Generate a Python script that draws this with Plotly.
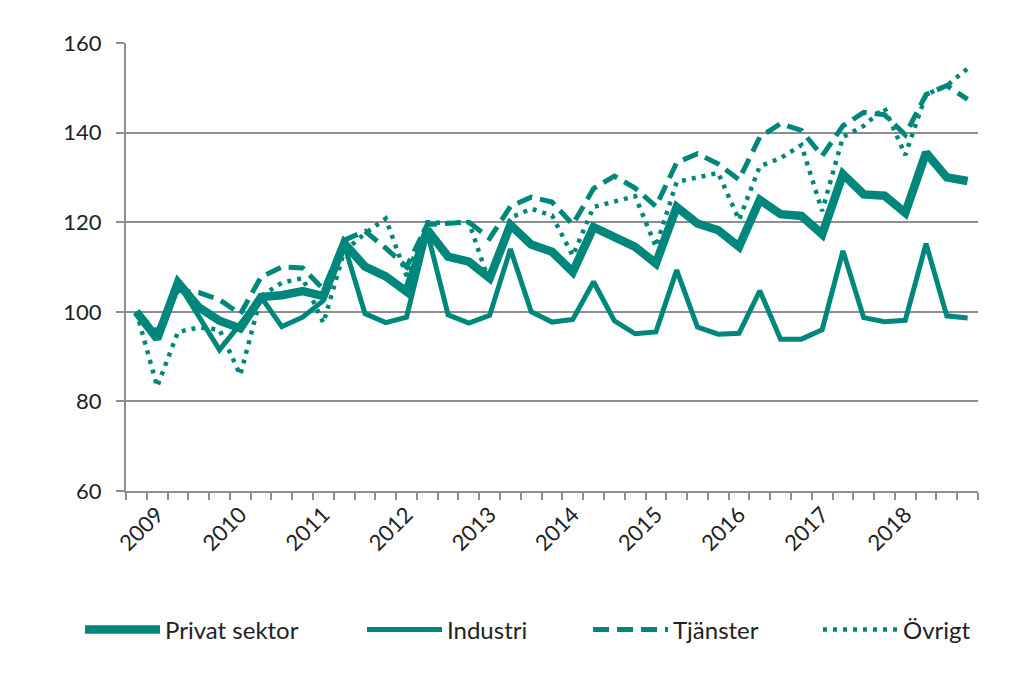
import plotly.graph_objects as go

# Categories: quarterly, 2008 K4 .. 2018 K4
quarters = ["2008 K4"] + [f"{y} K{q}" for y in range(2009, 2019) for q in range(1, 5)]
year_labels = [q[:4] if q.endswith("K1") else "" for q in quarters]

privat_sektor = [100, 94, 106.5, 101, 98, 96.3, 103.3, 103.7, 104.6, 103.5,
                 115.3, 110.1, 107.9, 104.5, 118.3, 112.3, 111.2, 107.5, 119.4, 115,
                 113.4, 108.9, 118.9, 116.7, 114.5, 110.8, 123.4, 119.7, 118.2, 114.5,
                 125, 121.8, 121.4, 117.3, 130.7, 126.2, 125.9, 122.1, 135.5, 130, 129.2]
industri = [100, 94, 106.5, 99, 91.5, 97.3, 103.3, 96.7, 98.8, 102.5,
            115, 99.6, 97.6, 98.8, 117.8, 99.3, 97.5, 99.2, 114, 100,
            97.7, 98.3, 106.7, 98, 95.1, 95.5, 109.3, 96.6, 95, 95.2,
            104.7, 93.9, 93.9, 96, 113.6, 98.7, 97.8, 98.1, 115.2, 99.1, 98.6]
tjanster = [100, 95.5, 104.8, 104.3, 102.7, 99.5, 107.8, 110, 109.8, 105,
            116, 118, 114.2, 110, 119.5, 119.8, 120, 116.4, 123.5, 125.6,
            124.5, 119.5, 127.5, 130.3, 127.6, 123.5, 133.3, 135.3, 133, 129.5,
            139, 142, 140.5, 134.8, 141.5, 144.5, 144, 139.5, 148.5, 150.5, 147.4]
ovrigt = [100, 83.3, 95.5, 96.5, 96, 85.9, 103.5, 106.5, 107.5, 97.5,
          113.5, 117.5, 120.8, 108, 120, 119.8, 120, 106.4, 121, 123,
          121.5, 112.5, 123.4, 124.6, 125.8, 114.5, 129, 130, 131, 120.5,
          132.5, 134.3, 137.2, 122.5, 139, 141.5, 145.5, 135, 148.5, 150.5, 154.3]

TEAL = "#00877B"
GRID = "#8E8E8E"
FONT = "Lato, Liberation Sans, sans-serif"
TXT = "#222222"

fig = go.Figure()
fig.add_trace(go.Scatter(x=quarters, y=privat_sektor, mode="lines", name="Privat sektor",
                         line=dict(color=TEAL, width=8.5), legend="legend"))
fig.add_trace(go.Scatter(x=quarters, y=industri, mode="lines", name="Industri",
                         line=dict(color=TEAL, width=5), legend="legend2"))
fig.add_trace(go.Scatter(x=quarters, y=tjanster, mode="lines", name="Tjänster",
                         line=dict(color=TEAL, width=5, dash="16px,8px"), legend="legend3"))
fig.add_trace(go.Scatter(x=quarters, y=ovrigt, mode="lines", name="Övrigt",
                         line=dict(color=TEAL, width=4.5, dash="4px,6px"), legend="legend4"))

L, R, T, B = 126, 43, 43, 193
W, H = 1021, 684
pw = W - L - R
ph = H - T - B

def lx(px):
    return (px - L) / pw

ly = (T + ph - 630) / ph

leg_common = dict(orientation="h", yanchor="middle", y=ly, xanchor="left",
                  font=dict(family=FONT, size=24, color=TXT),
                  itemwidth=75, bgcolor="rgba(0,0,0,0)")

fig.update_layout(
    width=W, height=H,
    margin=dict(l=L, r=R, t=T, b=B, autoexpand=False),
    paper_bgcolor="white", plot_bgcolor="white",
    showlegend=True,
    font=dict(family=FONT, size=22, color=TXT),
    legend=dict(x=lx(80), **leg_common),
    legend2=dict(x=lx(362), **leg_common),
    legend3=dict(x=lx(588), **leg_common),
    legend4=dict(x=lx(818), **leg_common),
    xaxis=dict(
        type="category", tickmode="array", tickvals=quarters, ticktext=year_labels,
        tickson="boundaries", ticks="outside", ticklen=7, tickwidth=2, tickcolor=GRID,
        showline=True, linecolor=GRID, linewidth=2, showgrid=False,
        tickangle=-45, tickfont=dict(family=FONT, size=22, color=TXT),
        range=[-0.5, len(quarters) - 0.5], automargin=False,
    ),
    yaxis=dict(
        range=[60, 160], dtick=20, tick0=60, showgrid=True, gridcolor=GRID, gridwidth=2,
        showline=True, linecolor=GRID, linewidth=2, ticks="outside", ticklen=8,
        tickwidth=2, tickcolor=GRID, zeroline=False, ticklabelstandoff=10,
        tickfont=dict(family=FONT, size=22, color=TXT), automargin=False,
    ),
)

fig.write_html("out.html", config={"displayModeBar": False},
               post_script="document.body.style.margin='0';")
